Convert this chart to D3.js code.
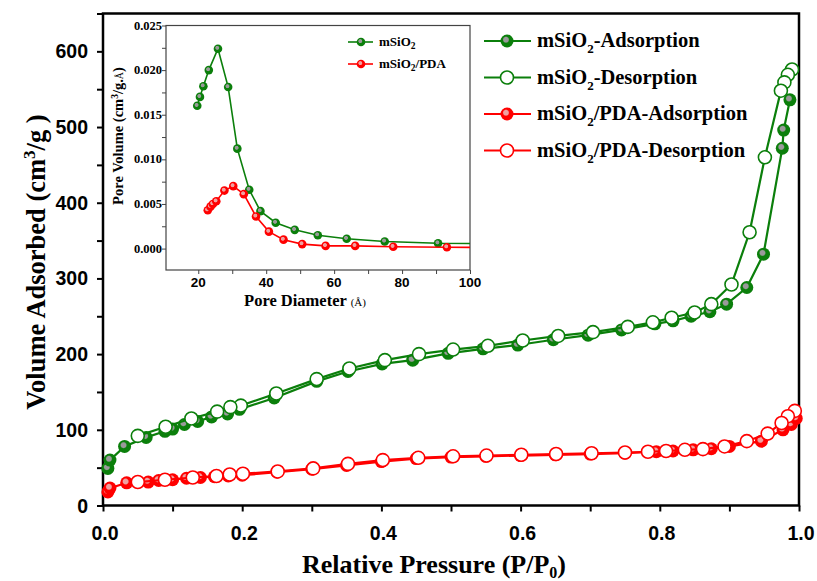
<!DOCTYPE html>
<html>
<head>
<meta charset="utf-8">
<script src="https://cdn.jsdelivr.net/npm/d3@7"></script>
<style>
  body { margin: 0; background: #fff; }
  svg { display: block; }
</style>
</head>
<body>
<svg width="817" height="581"></svg>
<script>
// isotherm data, P/P0 vs volume adsorbed (cm3/g)
var siAdsP = [0.007, 0.01, 0.031, 0.062, 0.089, 0.10, 0.117, 0.136, 0.156, 0.179, 0.196, 0.246, 0.307, 0.352, 0.401, 0.445, 0.496, 0.546, 0.596, 0.647, 0.697, 0.745, 0.793, 0.819, 0.845, 0.872, 0.896, 0.925, 0.949, 0.976, 0.978, 0.987];
var siAdsV = [49, 60, 78, 90, 98, 101, 107, 111, 117, 121, 127, 142, 164, 177, 187, 192, 201, 207, 212, 219, 225, 232, 240, 244, 250, 256, 266, 288, 332, 472, 496, 536];
var siDesP = [0.99, 0.984, 0.979, 0.974, 0.951, 0.929, 0.903, 0.874, 0.85, 0.817, 0.79, 0.754, 0.704, 0.654, 0.603, 0.553, 0.503, 0.454, 0.405, 0.354, 0.307, 0.249, 0.198, 0.183, 0.164, 0.127, 0.09, 0.05];
var siDesV = [576, 569, 559, 548, 460, 361, 292, 266, 255, 248, 242, 236, 229, 224, 218, 211, 206, 200, 192, 181, 167, 148, 132, 130, 124, 115, 104, 92];
var pdaAdsP = [0.007, 0.01, 0.034, 0.065, 0.08, 0.10, 0.12, 0.14, 0.16, 0.18, 0.20, 0.25, 0.30, 0.35, 0.40, 0.45, 0.50, 0.55, 0.60, 0.65, 0.70, 0.75, 0.795, 0.819, 0.848, 0.874, 0.90, 0.946, 0.977, 0.989, 0.996];
var pdaAdsV = [18, 23, 30, 31, 33, 34, 36, 37, 38, 39, 40, 44, 48, 53, 58, 62, 64, 65, 66, 67, 68, 69, 71, 72, 73.5, 75, 78, 85, 100, 107, 115];
var pdaDesP = [0.994, 0.984, 0.975, 0.955, 0.925, 0.893, 0.862, 0.836, 0.809, 0.783, 0.75, 0.702, 0.651, 0.601, 0.551, 0.503, 0.453, 0.402, 0.352, 0.302, 0.251, 0.201, 0.182, 0.163, 0.129, 0.089, 0.05];
var pdaDesV = [125, 118, 109, 95, 85, 78, 74.5, 73.6, 72, 71, 70, 69, 68, 67, 66, 65, 63, 60, 55, 49, 45, 42, 41, 39, 37, 34, 31];

// pore size distribution (inset)
var poreD_si = [19.7, 20.5, 21.5, 23.1, 25.8, 28.8, 31.5, 35.0, 38.3, 42.8, 48.4, 55.2, 63.7, 74.9, 90.6, 115];
var poreV_si = [0.0160, 0.0170, 0.0182, 0.0200, 0.0224, 0.0181, 0.0112, 0.0066, 0.0042, 0.0029, 0.0021, 0.0015, 0.0011, 0.0008, 0.0006, 0.0005];
var poreD_pda = [22.8, 23.6, 24.3, 25.3, 27.7, 30.3, 33.4, 37.0, 40.8, 45.1, 50.6, 57.5, 66.2, 77.4, 93.2, 115];
var poreV_pda = [0.0043, 0.0047, 0.0050, 0.0053, 0.0065, 0.0070, 0.0061, 0.0036, 0.0019, 0.0010, 0.0005, 0.0003, 0.0003, 0.0002, 0.00015, 0.0001];

var xTicks = [0, 0.2, 0.4, 0.6, 0.8, 1.0];
var yTicks = [0, 100, 200, 300, 400, 500, 600];
var inXTicks = [20, 40, 60, 80, 100];
var inYTicks = [0, 0.005, 0.01, 0.015, 0.02, 0.025];

var green = "#0b7f0b", red = "#ff0000";
var svg = d3.select("svg");

// sphere-like fill for solid markers
var defs = svg.append("defs");
function ball(id, c1, c2){
  var g = defs.append("radialGradient").attr("id", id).attr("cx", "42%").attr("cy", "40%").attr("r", "60%");
  g.append("stop").attr("offset", "0%").attr("stop-color", c1);
  g.append("stop").attr("offset", "30%").attr("stop-color", c1);
  g.append("stop").attr("offset", "45%").attr("stop-color", c2);
  g.append("stop").attr("offset", "100%").attr("stop-color", c2);
}
ball("gBall", "#9a9a9a", green);
ball("rBall", "#f0a0a0", red);
defs.append("clipPath").attr("id", "inClip").append("rect")
  .attr("x", 166).attr("y", 25).attr("width", 304).attr("height", 245);

// main axes
var x = d3.scaleLinear().domain([0, 1]).range([103, 799]);
var y = d3.scaleLinear().domain([0, 650]).range([505.5, 13.5]);

var axisFont = "'Liberation Sans', Arial, sans-serif";
var titleFont = "'Liberation Serif', 'Times New Roman', serif";

svg.append("g").attr("transform", "translate(0,505.5)")
  .call(d3.axisBottom(x).tickValues(d3.range(0, 1.01, 0.1)).tickSize(6).tickFormat(""))
  .call(function(g){ g.select(".domain").remove(); g.selectAll("line").attr("stroke-width", 2); });
svg.append("g").attr("transform", "translate(103,0)")
  .call(d3.axisLeft(y).tickValues(d3.range(0, 651, 50)).tickSize(6).tickFormat(""))
  .call(function(g){ g.select(".domain").remove(); g.selectAll("line").attr("stroke-width", 2); });

svg.append("rect").attr("x", 103).attr("y", 13.5).attr("width", 696).attr("height", 492)
  .attr("fill", "none").attr("stroke", "#000").attr("stroke-width", 2.5);

svg.selectAll(".xl").data(xTicks).enter().append("text")
  .attr("x", function(d){ return x(d) + 2; }).attr("y", 540)
  .attr("text-anchor", "middle").attr("font-family", axisFont).attr("font-weight", "bold").attr("font-size", 19.5)
  .text(function(d){ return d.toFixed(1); });
svg.selectAll(".yl").data(yTicks).enter().append("text")
  .attr("x", 88).attr("y", function(d){ return y(d) + 7; })
  .attr("text-anchor", "end").attr("font-family", axisFont).attr("font-weight", "bold").attr("font-size", 19.5)
  .text(function(d){ return d; });

var xt = svg.append("text").attr("x", 434).attr("y", 573).attr("text-anchor", "middle")
  .attr("font-family", titleFont).attr("font-weight", "bold").attr("font-size", 26);
xt.append("tspan").text("Relative Pressure (P/P");
xt.append("tspan").attr("font-size", 16).attr("dy", 5).text("0");
xt.append("tspan").attr("dy", -5).text(")");

var yt = svg.append("text").attr("transform", "translate(45,262) rotate(-90)").attr("text-anchor", "middle")
  .attr("font-family", titleFont).attr("font-weight", "bold").attr("font-size", 26.5);
yt.append("tspan").text("Volume Adsorbed (cm");
yt.append("tspan").attr("font-size", 17).attr("dy", -10).text("3");
yt.append("tspan").attr("dy", 10).text("/g )");

// series
function zip(a, b){ return a.map(function(v, i){ return [v, b[i]]; }); }
var series = [
  {pts: zip(siAdsP, siAdsV), color: green, fill: "url(#gBall)"},
  {pts: zip(siDesP, siDesV), color: green, fill: "#fff"},
  {pts: zip(pdaAdsP, pdaAdsV), color: red, fill: "url(#rBall)"},
  {pts: zip(pdaDesP, pdaDesV), color: red, fill: "#fff"}
];
var line = d3.line().x(function(d){ return x(d[0]); }).y(function(d){ return y(d[1]); });
series.forEach(function(s){
  var g = svg.append("g");
  g.append("path").attr("d", line(s.pts)).attr("fill", "none").attr("stroke", s.color).attr("stroke-width", 2.2);
  g.selectAll("circle").data(s.pts).enter().append("circle")
    .attr("cx", function(d){ return x(d[0]); }).attr("cy", function(d){ return y(d[1]); })
    .attr("r", 6.5).attr("fill", s.fill)
    .attr("stroke", s.fill == "#fff" ? s.color : "none").attr("stroke-width", 1.6);
});

// main legend
var legNames = [["mSiO", "-Adsorption"], ["mSiO", "-Desorption"], ["mSiO", "/PDA-Adsorption"], ["mSiO", "/PDA-Desorption"]];
legNames.forEach(function(n, i){
  var ly = 41 + i * 36.5, s = series[i];
  svg.append("line").attr("x1", 484).attr("x2", 531).attr("y1", ly).attr("y2", ly)
    .attr("stroke", s.color).attr("stroke-width", 2.2);
  svg.append("circle").attr("cx", 507).attr("cy", ly).attr("r", 6.5).attr("fill", s.fill)
    .attr("stroke", s.fill == "#fff" ? s.color : "none").attr("stroke-width", 1.6);
  var t = svg.append("text").attr("x", 537).attr("y", ly + 6)
    .attr("font-family", titleFont).attr("font-weight", "bold").attr("font-size", 20.5);
  t.append("tspan").text(n[0]);
  t.append("tspan").attr("font-size", 13).attr("dy", 6).text("2");
  t.append("tspan").attr("dy", -6).text(n[1]);
});

// inset
var ix = d3.scaleLinear().domain([10.5, 100]).range([166, 470]);
var iy = d3.scaleLinear().domain([-0.0024, 0.025]).range([270, 25.5]);
var inset = svg.append("g");
inset.append("rect").attr("x", 166).attr("y", 25.5).attr("width", 304).attr("height", 244.5)
  .attr("fill", "#fff").attr("stroke", "#444").attr("stroke-width", 1.2);
inset.append("g").attr("transform", "translate(0,270)")
  .call(d3.axisBottom(ix).tickValues(d3.range(20, 101, 10)).tickSize(4).tickFormat(""))
  .call(function(g){ g.select(".domain").remove(); g.selectAll("line").attr("stroke", "#444"); });
inset.append("g").attr("transform", "translate(166,0)")
  .call(d3.axisLeft(iy).tickValues(d3.range(0, 0.0251, 0.0025)).tickSize(4).tickFormat(""))
  .call(function(g){ g.select(".domain").remove(); g.selectAll("line").attr("stroke", "#444"); });
inset.selectAll(".ixl").data(inXTicks).enter().append("text")
  .attr("x", function(d){ return ix(d); }).attr("y", 286.5)
  .attr("text-anchor", "middle").attr("font-family", axisFont).attr("font-weight", "bold").attr("font-size", 13.5)
  .text(function(d){ return d; });
inset.selectAll(".iyl").data(inYTicks).enter().append("text")
  .attr("x", 162).attr("y", function(d){ return iy(d) + 4; })
  .attr("text-anchor", "end").attr("font-family", titleFont).attr("font-weight", "bold").attr("font-size", 12.5)
  .text(function(d){ return d.toFixed(3); });
var ixt = inset.append("text").attr("x", 305).attr("y", 306).attr("text-anchor", "middle")
  .attr("font-family", titleFont).attr("font-weight", "bold").attr("font-size", 16.5);
ixt.append("tspan").text("Pore Diameter ");
ixt.append("tspan").attr("font-weight", "normal").attr("font-size", 11).text("(Å)");
var iyt = inset.append("text").attr("transform", "translate(123,136) rotate(-90)").attr("text-anchor", "middle")
  .attr("font-family", titleFont).attr("font-weight", "bold").attr("font-size", 14.5);
iyt.append("tspan").text("Pore Volume (cm");
iyt.append("tspan").attr("font-size", 9.5).attr("dy", -5).text("3");
iyt.append("tspan").attr("dy", 5).text("/g.");
iyt.append("tspan").attr("font-weight", "normal").attr("font-size", 10).text("Å");
iyt.append("tspan").text(")");

var inSeries = [
  {pts: zip(poreD_si, poreV_si), color: green, fill: "url(#gBall)", name: "mSiO", suf: ""},
  {pts: zip(poreD_pda, poreV_pda), color: red, fill: "url(#rBall)", name: "mSiO", suf: "/PDA"}
];
var iline = d3.line().x(function(d){ return ix(d[0]); }).y(function(d){ return iy(d[1]); });
inSeries.forEach(function(s, i){
  var g = inset.append("g").attr("clip-path", "url(#inClip)");
  g.append("path").attr("d", iline(s.pts)).attr("fill", "none").attr("stroke", s.color).attr("stroke-width", 1.6);
  g.selectAll("circle").data(s.pts).enter().append("circle")
    .attr("cx", function(d){ return ix(d[0]); }).attr("cy", function(d){ return iy(d[1]); })
    .attr("r", 4.3).attr("fill", s.fill);
  var ly = 42 + i * 22;
  inset.append("line").attr("x1", 348).attr("x2", 373).attr("y1", ly).attr("y2", ly)
    .attr("stroke", s.color).attr("stroke-width", 1.6);
  inset.append("circle").attr("cx", 361).attr("cy", ly).attr("r", 4.3).attr("fill", s.fill);
  var t = inset.append("text").attr("x", 379).attr("y", ly + 4)
    .attr("font-family", titleFont).attr("font-weight", "bold").attr("font-size", 13);
  t.append("tspan").text(s.name);
  t.append("tspan").attr("font-size", 9.5).attr("dy", 3).text("2");
  t.append("tspan").attr("dy", -3).text(s.suf);
});
</script>
</body>
</html>
